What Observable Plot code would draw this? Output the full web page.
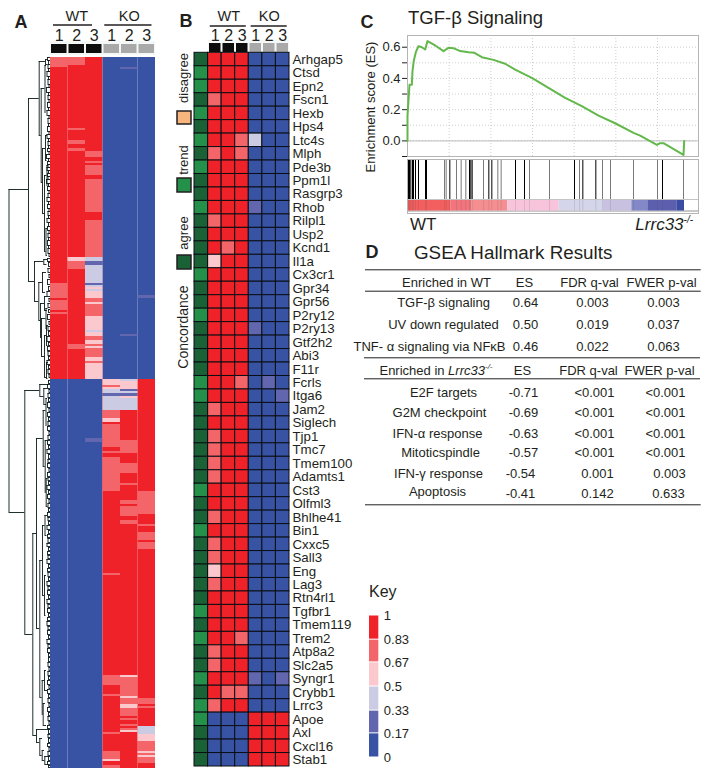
<!DOCTYPE html>
<html><head><meta charset="utf-8">
<script src="https://cdn.jsdelivr.net/npm/d3@7"></script>
<script src="https://cdn.jsdelivr.net/npm/@observablehq/plot@0.6"></script>
<style>
html,body{margin:0;padding:0;background:#fff;overflow:hidden}
#page{position:relative;width:711px;height:775px;overflow:hidden;font-family:"Liberation Sans",Arial,sans-serif;color:#231f20}
#page svg{position:absolute;font-family:"Liberation Sans",Arial,sans-serif}
.t{position:absolute;white-space:nowrap;line-height:1}
</style></head><body><div id="page"></div>
<script>
// ---------- shared levels
const R=1,P=.75,L=.58,V=.42,D=.25,B=0;
const keyBreaks=[0,.17,.33,.5,.67,.83,1];
const keyColors=["#3953a4","#6266ae","#cccbe4","#fbc8ce","#f4656a","#ef2129"];
const sampleLabels=["1","2","3","1","2","3"];
const groupLabels=["WT","KO"];

// ---------- panel A heat map: [rowStart,rowEnd,level] runs that differ from the column's base
const aWT1=[[57,67,P],[283,298,P],[300,310,P],[312,314,P]];
const aWT2=[[57,65,P],[128,130,P],[140,144,P],[148,151,P],[257,261,L],[261,269,P],[344,349,P]];
const aWT3=[[151,157,P],[161,163,P],[165,175,P],[179,212,P],[220,257,P],[257,261,V],[261,265,D],[265,283,V],[283,285,D],[285,287,V],[287,289,L],[289,291,V],[291,298,L],[298,302,P],[302,304,L],[304,316,P],[316,330,L],[330,332,V],[332,336,L],[336,340,P],[340,344,L],[344,346,P],[346,348,L],[348,357,P],[357,361,L],[361,363,P],[363,379,L],[438,442,D]];
const aKO1=[[379,385,L],[385,387,P],[387,389,L],[389,393,V],[393,396,D],[396,410,V],[410,418,P],[418,422,L],[422,424,R],[424,447,P],[447,451,R],[451,453,P],[453,457,R],[457,491,P],[573,575,P],[675,685,P],[694,696,P],[732,734,P],[751,759,P],[759,761,L],[765,768,P]];
const aKO2=[[67,69,D],[334,336,D],[379,381,V],[381,389,L],[389,391,D],[391,393,V],[393,396,D],[396,398,L],[398,410,V],[440,453,P],[463,473,P],[483,485,P],[500,504,P],[506,516,P],[520,524,P],[675,677,L],[677,696,P],[696,698,L],[698,704,P],[704,708,L],[708,716,P],[718,720,P],[724,726,P],[728,730,P],[730,732,L]];
const aKO3=[[295,298,D],[491,514,P],[524,526,P],[532,540,P],[542,549,P],[698,704,P],[706,708,P],[726,730,V],[730,734,V],[734,741,L],[741,751,P],[751,753,L],[753,755,P],[755,757,L],[757,763,P]];
const aUpper=[57,379], aLower=[379,768];

// ---------- panel A dendrogram: [depth,rowTop,rowBottom,depthTopChild,depthBottomChild]
const treeInner=[[8.5,189,512,28,24.3],[28,98,281,38.7,34],[38.7,61,135,45,40.7],[45,59,64,47.5,47],[40.7,88,182,44.5,42],[44.5,65,112,46,45.5],[42,148,213,45,44],[45,135,160,47,46.5],[44,175,251,46.5,45.5],[46.5,165,185,48,47.5],[45.5,228,255,47.5,47],[34,261,301,43.3,38.3],[43.3,259,264,47,46.5],[38.3,282,320,42,40],[42,272,292,46,45],[40,303,337,44,41],[44,296,310,47,47],[41,318,356,45.5,44],[45.5,308,328,47.5,47],[44,335,377,46,46],[46,325,345,48,47.5],[46,362,378,48,47.5],
[24.3,390,634,39.3,32.3],[39.3,384,396,48,43.3],[43.3,388,404,47,46],[32.3,533,735,36,36],[36,438,628,42.7,39.3],[42.7,410,466,45.5,44.7],[45.5,398,425,47,46.5],[44.7,440,492,47,45.7],[45.7,478,506,47.5,47.5],[39.3,560,697,42,41.7],[42,525,595,44.5,44],[44.5,515,535,47,46.5],[44,575,615,46,45.5],[41.7,680,714,44,42.7],[44,670,690,46,47],[42.7,703,725,45,46],[36,729,742,48,39.3],[39.3,738,755,42,41.7],[41.7,750,760,44,44.3],[44.3,756,764,48,48]];
// leaf merges: [depth,rowTop,rowBottom]
const treeLeaves=[[47,57,60],[48,60,64],[47.5,64,68],[48,68,71],[46.5,71,76],[48,76,79],[47.5,79,84],[48.5,84,87],[46,87,92],[48,92,95],[47.5,95,99],[48.5,99,102],[47,102,107],[48,107,110],[46.5,110,115],[48.5,115,118],[47.5,118,123],[48,123,126],[47,126,131],[48.5,131,134],[46.5,134,138],[48,138,141],[47.5,141,145],[48,145,148],[47,148,151],[48.5,151,154],[46,154,158],[48,158,161],[47,161,164],[47.5,164,167],[46.5,167,170],[48,170,173],[47,173,176],[47.5,176,179],[46,179,183],[48,183,186],[47,186,190],[48.5,190,193],[47.5,193,197],[46.5,197,201],[48,201,204],[47,204,208],[48.5,208,211],[47.5,211,215],[48,215,218],[46.5,218,222],[48,222,226],[47,226,230],[48.5,230,233],[47.5,233,237],[48,237,240],[47,240,245],[48,245,248],[47.5,248,253],[48.5,253,256],
[47,258,261],[48,262,266],[47.5,268,272],[48.5,274,277],[47,279,284],[48,286,290],[46.5,291,296],[48.5,298,301],[47.5,303,307],[48,309,312],[47,314,319],[48.5,321,324],[47.5,326,330],[48,331,335],[46.5,336,341],[48,342,345],[47,346,350],[47.5,351,355],[48,356,359],[46.5,360,364],[48,365,368],[47.5,369,373],[48.5,374,377],
[48,380,383],[47,384,388],[48.5,389,392],[47.5,393,397],[48,398,401],[47,402,407],[48.5,408,411],[47,412,416],[48,417,420],[47.5,421,425],[47,426,430],[48.5,431,434],[47.5,435,439],[47,440,444],[48,445,448],[46.5,449,453],[48,454,458],[47.5,459,462],[47,463,467],[48.5,468,471],[47,472,476],[47.5,477,480],[48,481,484],[46.5,485,489],[48,490,493],[47,494,498],[48.5,499,502],[47.5,503,507],[48,508,511],[47,512,516],[47.5,517,520],[48,521,524],[46.5,525,529],[48,530,533],[47,534,537],[47.5,538,542],[46.5,543,546],[48,547,550],[47,551,554],[47.5,555,558],[46.5,559,563],[48,564,567],[47,568,571],[47.5,572,576],[48,577,580],[46.5,581,585],[47.5,586,589],[47,590,594],[48,595,598],[46.5,599,603],[47.5,604,607],[47,608,612],[48,613,616],[47,617,620],[46.5,621,625],[47.5,626,629],[47,630,634],[48,635,638],[46.5,639,643],[47.5,644,647],[47,648,652],[48,653,656],[48,657,661],[47.5,662,666],[48.5,667,670],[47.5,671,675],[48,676,679],[47,680,684],[48.5,685,688],[47,689,693],[48,694,697],[47.5,698,702],[48.5,703,706],[47,707,711],[48,712,715],[47.5,716,720],[48.5,721,724],[47,725,728],[48,729,733],[47.5,734,737],[48,738,742],[47,743,746],[48.5,747,750],[47.5,751,755],[48,756,760],[47,761,764],[48,765,767]];

// ---------- panel B
const genes=["Arhgap5","Ctsd","Epn2","Fscn1","Hexb","Hps4","Ltc4s","Mlph","Pde3b","Ppm1l","Rasgrp3","Rhob","Rilpl1","Usp2","Kcnd1","Il1a","Cx3cr1","Gpr34","Gpr56","P2ry12","P2ry13","Gtf2h2","Abi3","F11r","Fcrls","Itga6","Jam2","Siglech","Tjp1","Tmc7","Tmem100","Adamts1","Cst3","Olfml3","Bhlhe41","Bin1","Cxxc5","Sall3","Eng","Lag3","Rtn4rl1","Tgfbr1","Tmem119","Trem2","Atp8a2","Slc2a5","Syngr1","Crybb1","Lrrc3","Apoe","Axl","Cxcl16","Stab1"];
const trendGenes=["Ctsd","Epn2","Hexb","Ltc4s","Pde3b","Rhob","Cx3cr1","P2ry12","Fcrls","Itga6","Cst3","Bin1","Tgfbr1","Trem2","Syngr1","Lrrc3","Apoe"];
const reversedGenes=["Apoe","Axl","Cxcl16","Stab1"];
const sampleIds=["WT1","WT2","WT3","KO1","KO2","KO3"];
const bExceptions=[["Fscn1","WT1",P],["Ltc4s","WT3",P],["Ltc4s","KO1",V],["Mlph","WT1",P],["Mlph","WT3",P],["Rhob","KO1",D],["Rilpl1","WT1",P],["Kcnd1","WT2",P],["Il1a","WT1",L],["P2ry13","KO1",D],["Fcrls","WT3",P],["Fcrls","KO2",D],["Itga6","KO3",D],["Jam2","WT1",P],["Tjp1","WT1",P],["Tmc7","WT1",P],["Tmem100","WT1",P],["Adamts1","WT1",P],["Bhlhe41","WT1",P],["Cxxc5","WT1",P],["Sall3","WT1",P],["Eng","WT1",L],["Lag3","WT1",P],["Trem2","WT3",P],["Atp8a2","WT1",P],["Slc2a5","WT1",P],["Syngr1","KO1",D],["Syngr1","KO3",D],["Crybb1","WT2",P],["Crybb1","WT3",P],["Lrrc3","WT1",P]];

// ---------- panel C
const esRank=[0,0,60,120,260,300,380,500,660,860,1060,1200,1660,2160,2460,2760,3160,3660,4020,4460,5160,5860,6460,7460,8460,9460,10460,11460,12460,13560,13960,14960,15160,15360,16560,16600];
const esValue=[0,.16,.26,.36,.36,.447,.515,.568,.607,.6,.585,.639,.611,.575,.596,.594,.575,.568,.564,.536,.519,.494,.457,.404,.34,.276,.222,.162,.113,.051,.034,-.026,-.015,-.015,-.09,0];
const hitsDark=[60,120,200,300,360,480,660,1080,1140,2540,3720,3800,3880,4880,5060,6480,7020,10020,10520,11300,15300];
const hitsGray=[2220,2320,2940,3220,3500,4560,5420,5620,7320,8520,10320,11700,12180,13560,15000,16560];
const barEdges=[0,2600,3860,6020,9100,11760,13460,14420,16160,16620];
const barColors=["#f35e5e","#f2747c","#f58e90","#f7c4db","#d4d4ea","#c8c2e0","#8288c8","#5c5eae","#3a4ca4"];
const esTicks=[-.1,0,.1,.2,.3,.4,.5,.6];
const rankTicks=[2500,5000,7500,10000,12500,15000];

// ---------- panel D
const wtHeader=["Enriched in WT","ES","FDR q-val","FWER p-val"];
const koHeader=["ES","FDR q-val","FWER p-val"];
const setNames=["TGF-β signaling","UV down regulated","TNF- α signaling via NFκB","E2F targets","G2M checkpoint","IFN-α response","Mitoticspindle","IFN-γ response","Apoptosis"];
const setES=["0.64","0.50","0.46","-0.71","-0.69","-0.63","-0.57","-0.54","-0.41"];
const setFDR=["0.003","0.019","0.022","<0.001","<0.001","<0.001","<0.001","0.001","0.142"];
const setFWER=["0.003","0.037","0.063","<0.001","<0.001","<0.001","<0.001","0.003","0.633"];

// ---------- helpers
const page=document.getElementById("page");
const ink="#231f20";
function place(svg,left,top){svg.style.left=left+"px";svg.style.top=top+"px";page.appendChild(svg);return svg;}
function label(html,x,y,size,opt={}){const d=document.createElement("div");d.className="t";d.innerHTML=html;
 d.style.left=x+"px";d.style.top=y+"px";d.style.fontSize=size+"px";
 if(opt.bold)d.style.fontWeight="bold";
 const ax=opt.anchor==="start"?"0":opt.anchor==="end"?"-100%":"-50%";
 d.style.transform=`translate(${ax},-50%)`+(opt.rot?` rotate(${opt.rot}deg)`:"");
 page.appendChild(d);}
const base={style:{background:"transparent",overflow:"visible",color:ink,fontFamily:"Liberation Sans"}};
const heatColor={type:"threshold",domain:keyBreaks.slice(1,-1),range:keyColors};

// sample header (groups, rule, numbers, boxes)
function header(left,width,yBox,rules){
 const cols=d3.range(6);
 return place(Plot.plot({...base,width,height:56,margin:0,
  x:{domain:[0,6],axis:null},y:{type:"identity",axis:null},
  marks:[
   Plot.rect([0],{x1:0,x2:6,y1:yBox-3,y2:yBox+11,fill:"#f3f8f6"}),
   Plot.rect(cols,{x1:d=>d,x2:d=>d+1,y1:yBox,y2:yBox+9,insetLeft:1,insetRight:1,fill:d=>d<3?"#0d0d0d":"#a9a9a9"}),
   Plot.text(cols,{x:d=>d+.5,y:35,text:d=>sampleLabels[d],fontSize:16,fill:ink}),
   Plot.text(groupLabels,{x:(d,i)=>i?4.5:1.5,y:16,text:d=>d,fontSize:14.5,fill:ink}),
   Plot.ruleY(rules,{x1:d=>d[0],x2:d=>d[1],y:d=>d[2],stroke:ink,strokeWidth:1.6})
  ]}),left,0);
}

// ---------- Panel A
label("A",21,22,18,{bold:true});
header(50,105,44,[[.17,2.4,24.5],[3.1,5.8,24.5]]);
{
 const cols=[aWT1,aWT2,aWT3,aKO1,aKO2,aKO3];
 const runs=cols.flatMap((list,c)=>list.map(([a,b,v])=>({c,a,b,v})));
 const bases=d3.range(6).flatMap(c=>[{c,a:aUpper[0],b:aUpper[1],v:c<3?R:B},{c,a:aLower[0],b:aLower[1],v:c<3?B:R}]);
 place(Plot.plot({...base,width:105,height:775,marginLeft:0,marginRight:0,marginTop:57,marginBottom:7,
  x:{domain:[0,6],axis:null},y:{domain:[57,768],reverse:true,axis:null},color:heatColor,
  marks:[Plot.rect(bases.concat(runs),{x1:"c",x2:d=>d.c+1,y1:"a",y2:"b",fill:"v"})]}),50,0);
 const v=[],h=[];
 treeInner.forEach(([x,a,b,ca,cb])=>{v.push({x,a,b});h.push({y:a,x1:x,x2:ca},{y:b,x1:x,x2:cb});});
 treeLeaves.forEach(([x,a,b])=>{v.push({x,a,b});h.push({y:a,x1:x,x2:50},{y:b,x1:x,x2:50});});
 place(Plot.plot({...base,width:50,height:775,marginLeft:0,marginRight:0,marginTop:57,marginBottom:7,
  x:{domain:[0,50],axis:null},y:{domain:[57,768],reverse:true,axis:null},
  marks:[Plot.ruleX(v,{x:"x",y1:"a",y2:"b",stroke:"#0a1a16",strokeWidth:.9}),
         Plot.ruleY(h,{y:"y",x1:"x1",x2:"x2",stroke:"#0a1a16",strokeWidth:.9})]}),0,0);
}

// ---------- Panel B
label("B",186,21,18,{bold:true});
header(208.3,81,43,[[.13,2.8,25.5],[3.16,5.83,25.5]]);
{
 const exc=new Map(bExceptions.map(([g,s,v])=>[g+"|"+s,v]));
 const cells=genes.flatMap(g=>sampleIds.map((s,i)=>{
   const up=(i<3)!==reversedGenes.includes(g);
   return {g,s,v:exc.has(g+"|"+s)?exc.get(g+"|"+s):(up?R:B)};}));
 place(Plot.plot({...base,width:165,height:775,marginLeft:0,marginRight:70,marginTop:52.3,marginBottom:9,
  x:{domain:["concordance",...sampleIds],axis:null,padding:0,round:false},
  y:{domain:genes,padding:0,axis:null,round:false},color:heatColor,
  marks:[
   Plot.cell(cells,{x:"s",y:"g",fill:"v",stroke:"#0a0f14",strokeWidth:1}),
   Plot.cell(genes,{x:()=>"concordance",y:d=>d,fill:d=>trendGenes.includes(d)?"#259049":"#1b6136",stroke:"#0a0f14",strokeWidth:1}),
   Plot.axisY({anchor:"right",tickSize:0,tickPadding:3,fontSize:13.3,label:null,textStroke:"none"})
  ]}),194.3,0);
 const swatches=[["disagree","#f8b57d",111,124],["trend","#259049",178,192],["agree","#1b6136",255,269]];
 place(Plot.plot({...base,width:20,height:280,margin:0,x:{type:"identity",axis:null},y:{type:"identity",axis:null},
  marks:[Plot.rect(swatches,{x1:1,x2:15,y1:d=>d[2],y2:d=>d[3],fill:d=>d[1],stroke:"#231f20",strokeWidth:1.5})]}),176,0);
 label("disagree",183,78,13,{rot:-90});
 label("trend",183,160,13,{rot:-90});
 label("agree",183,233,13,{rot:-90});
 label("Concordance",183,327,14,{rot:-90});
}

// ---------- Panel C
label("C",367,22,18,{bold:true});
label("TGF-β Signaling",408,18,18.5,{anchor:"start"});
label("Enrichment score (ES)",370,107,13,{rot:-90});
{
 const pts=esRank.map((r,i)=>({r,v:esValue[i]}));
 place(Plot.plot({...base,width:356,height:157,marginLeft:52,marginRight:13,marginTop:35,marginBottom:1,
  x:{domain:[0,17460],axis:null},y:{domain:[-.1,.675]},
  marks:[
   Plot.gridY(esTicks,{stroke:"#bbb",strokeOpacity:.7,strokeDasharray:"1,2"}),
   Plot.gridX(rankTicks,{stroke:"#bbb",strokeOpacity:.7,strokeDasharray:"1,2"}),
   Plot.ruleY([0],{stroke:"#bdbdbd",strokeWidth:1}),
   Plot.frame({stroke:"#b5b5b5"}),
   Plot.axisY(esTicks,{tickSize:5,tickPadding:2,fontSize:13,label:null,tickFormat:d=>Math.round(d*10)%2===0?d3.format(".1f")(Math.abs(d)<1e-9?0:d):""}),
   Plot.line(pts,{x:"r",y:"v",stroke:"#62b84b",strokeWidth:2})
  ]}),355,0);
 const bars=barColors.map((c,i)=>({a:barEdges[i],b:barEdges[i+1],c}));
 const all=hitsDark.concat(hitsGray);
 place(Plot.plot({...base,width:356,height:54,marginLeft:52,marginRight:13,marginTop:0,marginBottom:0,
  x:{domain:[0,17460],axis:null},y:{domain:[0,54],reverse:true,axis:null},
  marks:[
   Plot.rect([0],{x1:0,x2:17460,y1:51,y2:53,fill:"#c9c9c9"}),
   Plot.rect(bars,{x1:"a",x2:"b",y1:41,y2:51.5,fill:d=>d.c}),
   Plot.ruleX(all,{x:d=>d,y1:41,y2:51.5,stroke:"#444",strokeOpacity:.14}),
   Plot.ruleX(hitsGray,{y1:0,y2:40,stroke:"#7a7a7a",strokeWidth:1}),
   Plot.ruleX(hitsDark,{y1:0,y2:40,stroke:"#000",strokeWidth:1}),
   Plot.ruleY([40],{stroke:"#c4c4c4"}),
   Plot.frame({stroke:"#b5b5b5"})
  ]}),355,159);
 label("WT",410,224,17,{anchor:"start"});
 label('<i>Lrrc33</i><sup style="font-size:10px;font-style:italic;line-height:0">-/-</sup>',693,224,17,{anchor:"end"});
}

// ---------- Panel D (layout in page pixels; values come from the named lists)
label("D",372,252,18,{bold:true});
label("GSEA Hallmark Results",414,253,18.8,{anchor:"start"});
{
 const rowY=[302,324,346,392,412,433,452,473,493];
 const nameY=[302,324,346,392,412,433,452,473,491];
 const nameX=[443,443,429,443,439,437,440,438,437];
 const esX=[525,525,525,523,523,523,523,520,520];
 const fdrX=[592,592,592,594,594,594,594,597,597];
 const fwerX=[663,663,663,665,665,665,665,669,668];
 const idx=setNames.map((_,i)=>i);
 const txt={fontSize:13,fill:ink};
 const wtX=[446,524,589,661], koX=[522,588,659];
 place(Plot.plot({...base,width:711,height:775,margin:0,x:{type:"identity",axis:null},y:{type:"identity",axis:null},
  marks:[
   Plot.ruleY([269.3,290.7],{x1:365,x2:700.7,stroke:ink,strokeWidth:1}),
   Plot.ruleY([357.3,378.3],{x1:364,x2:700,stroke:ink,strokeWidth:1}),
   Plot.ruleY([504.3],{x1:365,x2:700.7,stroke:ink,strokeWidth:1}),
   Plot.text(wtHeader,{x:(d,i)=>wtX[i],y:282,text:d=>d,...txt}),
   Plot.text(koHeader,{x:(d,i)=>koX[i],y:370,text:d=>d,...txt}),
   Plot.text(idx,{x:i=>nameX[i],y:i=>nameY[i],text:i=>setNames[i],...txt}),
   Plot.text(idx,{x:i=>esX[i],y:i=>rowY[i],text:i=>setES[i],...txt}),
   Plot.text(idx,{x:i=>fdrX[i],y:i=>rowY[i],text:i=>setFDR[i],...txt}),
   Plot.text(idx,{x:i=>fwerX[i],y:i=>rowY[i],text:i=>setFWER[i],...txt})
  ]}),0,0);
 label('Enriched in <i>Lrrc33</i><sup style="font-size:8px;font-style:italic;line-height:0">-/-</sup>',436,370,13);
}

// ---------- Key
label("Key",369,592,16,{anchor:"start"});
{
 const keyBins=keyColors.map((c,i)=>({a:keyBreaks[i],b:keyBreaks[i+1],c}));
 place(Plot.plot({...base,width:50,height:165,marginLeft:0,marginRight:40.7,marginTop:15,marginBottom:8,
  x:{domain:[0,1],axis:null},y:{domain:[0,1]},
  marks:[
   Plot.rect(keyBins,{x1:0,x2:1,y1:"a",y2:"b",fill:d=>d.c,insetTop:.5,insetBottom:.5}),
   Plot.axisY(keyBreaks,{anchor:"right",tickSize:0,tickPadding:5,fontSize:13,label:null,tickFormat:d=>String(d)})
  ]}),369,600);
}
</script></body></html>
